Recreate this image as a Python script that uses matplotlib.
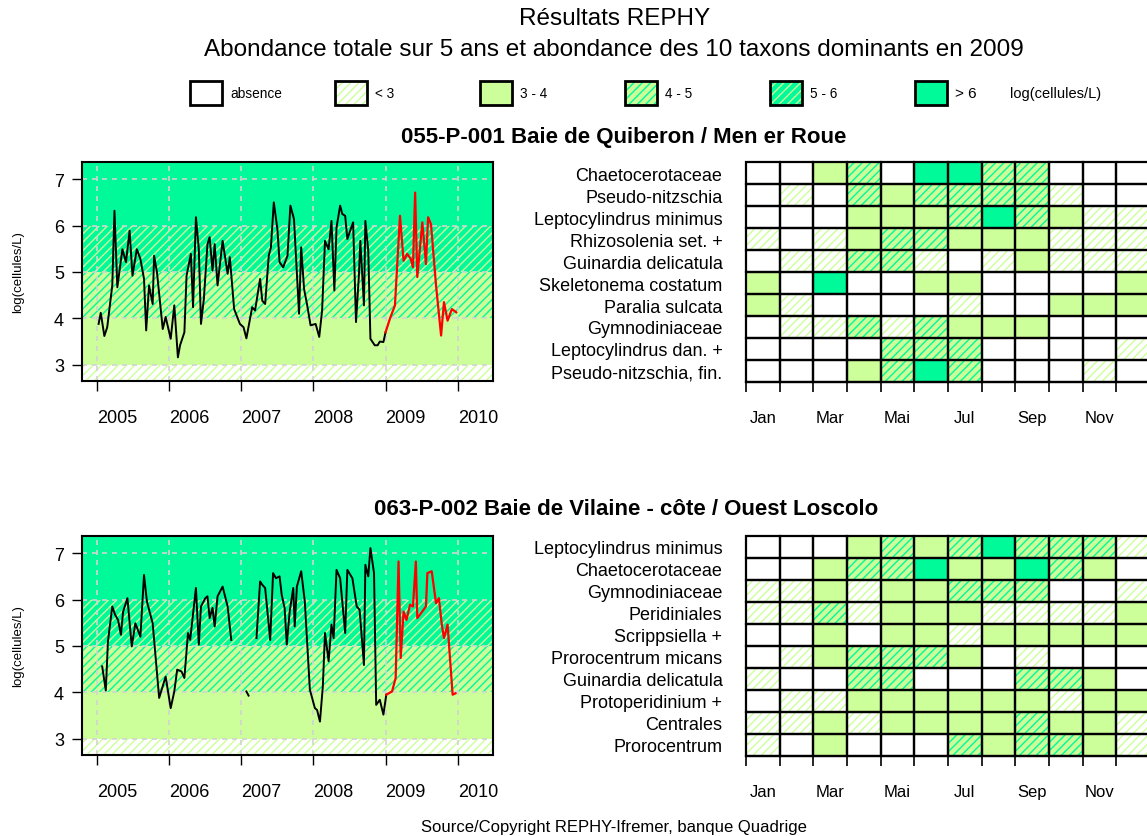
import numpy as np
import matplotlib.pyplot as plt

plt.rcParams['font.family'] = ['Liberation Sans', 'DejaVu Sans']
plt.rcParams['hatch.linewidth'] = 1.0

LIGHT = '#CCFF99'
SPRING = '#00FA9A'

# abundance classes (log cells/L)
class_labels = ['absence', '< 3', '3 - 4', '4 - 5', '5 - 6', '> 6']
class_face = ['white', 'white', LIGHT, LIGHT, SPRING, SPRING]
class_hatch = [None, '////', None, '////', '////', None]
class_hcol = ['white', LIGHT, LIGHT, SPRING, LIGHT, SPRING]
band_edges = [2.0, 3, 4, 5, 6, 8.0]
band_class = [1, 2, 3, 4, 5]

years = [2005, 2006, 2007, 2008, 2009, 2010]
months = ['Jan', 'Mar', 'Mai', 'Jul', 'Sep', 'Nov']

# --- station 1 : Quiberon
title1 = '055-P-001 Baie de Quiberon / Men er Roue'
t1 = [2005.02, 2005.05, 2005.10, 2005.14, 2005.21, 2005.24, 2005.28, 2005.35, 2005.40, 2005.45,
      2005.49, 2005.55, 2005.60, 2005.65, 2005.68, 2005.72, 2005.77, 2005.79, 2005.83, 2005.91,
      2005.95, 2006.02, 2006.07, 2006.12, 2006.15, 2006.21, 2006.24, 2006.30, 2006.33, 2006.37,
      2006.41, 2006.44, 2006.48, 2006.53, 2006.56, 2006.60, 2006.63, 2006.67, 2006.74, 2006.81,
      2006.84, 2006.90, 2006.98, 2007.03, 2007.07, 2007.15, 2007.19, 2007.26, 2007.29, 2007.33,
      2007.38, 2007.41, 2007.45, 2007.50, 2007.53, 2007.58, 2007.64, 2007.68, 2007.73, 2007.80,
      2007.83, 2007.87, 2007.91, 2007.96, 2008.03, 2008.08, 2008.12, 2008.16, 2008.21, 2008.25,
      2008.29, 2008.32, 2008.37, 2008.40, 2008.44, 2008.47, 2008.55, 2008.59, 2008.63, 2008.65,
      2008.70, 2008.72, 2008.76, 2008.79, 2008.85, 2008.89, 2008.92, 2008.97, 2009.00]
v1 = [3.88, 4.12, 3.62, 3.81, 4.71, 6.32, 4.67, 5.49, 5.21, 5.89,
      4.92, 5.49, 5.28, 4.85, 3.74, 4.71, 4.31, 5.35, 4.99, 3.77,
      4.03, 3.56, 4.28, 3.16, 3.42, 3.70, 4.92, 5.39, 4.24, 6.18,
      5.49, 3.88, 4.42, 5.60, 5.75, 5.03, 5.60, 4.71, 5.67, 4.96,
      5.32, 4.20, 3.88, 3.81, 3.57, 4.24, 4.17, 4.85, 4.38, 4.31,
      5.35, 5.53, 6.50, 5.92, 5.21, 5.10, 5.35, 6.43, 6.14, 4.10,
      5.53, 4.63, 4.31, 3.85, 3.88, 3.60, 4.17, 5.67, 5.49, 6.10,
      4.60, 5.96, 6.43, 6.25, 6.21, 5.71, 6.07, 3.92, 4.92, 5.67,
      4.28, 6.10, 5.46, 3.56, 3.42, 3.42, 3.50, 3.49, 3.70]
t1_2009 = [2009.00, 2009.06, 2009.13, 2009.20, 2009.25, 2009.30, 2009.35, 2009.38, 2009.41, 2009.44,
           2009.51, 2009.56, 2009.59, 2009.63, 2009.70, 2009.77, 2009.81, 2009.86, 2009.92, 2009.98]
v1_2009 = [3.70, 3.99, 4.28, 6.21, 5.24, 5.39, 5.28, 5.10, 6.71, 4.89,
           6.07, 5.17, 6.18, 6.03, 4.71, 3.63, 4.35, 3.95, 4.20, 4.13]
taxa1 = ['Chaetocerotaceae', 'Pseudo-nitzschia', 'Leptocylindrus minimus', 'Rhizosolenia set. +',
         'Guinardia delicatula', 'Skeletonema costatum', 'Paralia sulcata', 'Gymnodiniaceae',
         'Leptocylindrus dan. +', 'Pseudo-nitzschia, fin.']
cells1 = [[0, 0, 2, 3, 0, 5, 5, 3, 3, 0, 0, 0],
          [0, 1, 0, 3, 2, 3, 3, 3, 3, 1, 0, 0],
          [0, 0, 0, 2, 2, 2, 3, 5, 3, 2, 1, 1],
          [1, 0, 1, 2, 3, 3, 2, 2, 2, 1, 1, 1],
          [0, 1, 1, 3, 3, 1, 0, 1, 2, 1, 1, 1],
          [2, 0, 5, 0, 0, 2, 2, 0, 0, 0, 0, 2],
          [2, 1, 0, 0, 0, 0, 1, 0, 0, 2, 2, 2],
          [0, 1, 1, 3, 1, 3, 2, 2, 2, 0, 0, 0],
          [0, 0, 0, 0, 3, 3, 3, 0, 0, 0, 0, 1],
          [0, 0, 0, 2, 3, 5, 3, 0, 0, 0, 1, 0]]

# --- station 2 : Vilaine
title2 = '063-P-002 Baie de Vilaine - côte / Ouest Loscolo'
nan = np.nan
t2 = [2005.07, 2005.12, 2005.15, 2005.21, 2005.25, 2005.29, 2005.33, 2005.36, 2005.42, 2005.48,
      2005.53, 2005.60, 2005.65, 2005.69, 2005.77, 2005.86, 2005.95, 2006.02, 2006.07, 2006.11,
      2006.17, 2006.21, 2006.26, 2006.29, 2006.37, 2006.41, 2006.44, 2006.50, 2006.53, 2006.56,
      2006.60, 2006.63, 2006.67, 2006.74, 2006.81, 2006.86, 2006.95, 2007.07, 2007.10, 2007.15,
      2007.21, 2007.26, 2007.29, 2007.33, 2007.40, 2007.44, 2007.48, 2007.53, 2007.56, 2007.60,
      2007.63, 2007.67, 2007.72, 2007.74, 2007.77, 2007.83, 2007.88, 2007.95, 2008.02, 2008.05,
      2008.09, 2008.13, 2008.16, 2008.21, 2008.25, 2008.28, 2008.32, 2008.37, 2008.44, 2008.47,
      2008.54, 2008.60, 2008.64, 2008.70, 2008.72, 2008.76, 2008.79, 2008.84, 2008.87, 2008.92,
      2008.97, 2009.01]
v2 = [4.56, 4.04, 5.10, 5.85, 5.67, 5.56, 5.24, 5.74, 6.03, 4.99,
      5.49, 5.20, 6.53, 5.96, 5.49, 3.88, 4.34, 3.66, 4.02, 4.49,
      4.45, 4.31, 5.28, 5.13, 6.25, 5.03, 5.85, 6.03, 6.07, 5.60,
      5.82, 5.42, 6.07, 6.28, 5.85, 5.13, nan, 4.02, 3.93, nan,
      5.17, 6.39, 6.32, 6.25, 5.13, 6.57, 6.46, 6.50, 6.10, 5.82,
      5.03, 5.74, 6.25, 5.42, 6.28, 6.61, 5.96, 4.06, 3.66, 3.62,
      3.37, 4.13, 5.28, 4.67, 5.46, 5.17, 6.64, 6.46, 5.28, 6.64,
      6.46, 5.85, 5.78, 4.59, 6.75, 6.50, 7.11, 6.57, 3.73, 3.84,
      3.52, 3.95]
t2_2009 = [2009.01, 2009.09, 2009.14, 2009.18, 2009.21, 2009.25, 2009.29, 2009.34, 2009.38, 2009.42,
           2009.44, 2009.56, 2009.58, 2009.64, 2009.70, 2009.74, 2009.78, 2009.81, 2009.86, 2009.93,
           2009.97]
v2_2009 = [3.95, 4.02, 4.31, 6.82, 4.74, 5.74, 5.56, 5.89, 5.85, 6.82,
           5.60, 5.85, 6.57, 6.61, 5.92, 6.03, 5.46, 5.17, 5.46, 3.95,
           3.98]
taxa2 = ['Leptocylindrus minimus', 'Chaetocerotaceae', 'Gymnodiniaceae', 'Peridiniales',
         'Scrippsiella +', 'Prorocentrum micans', 'Guinardia delicatula', 'Protoperidinium +',
         'Centrales', 'Prorocentrum']
cells2 = [[0, 0, 0, 2, 3, 2, 3, 5, 3, 3, 3, 1],
          [0, 0, 2, 3, 3, 5, 2, 2, 5, 3, 2, 0],
          [1, 1, 2, 1, 2, 2, 3, 3, 3, 0, 0, 1],
          [1, 1, 3, 1, 2, 2, 2, 1, 1, 1, 1, 2],
          [0, 0, 2, 0, 2, 2, 1, 2, 2, 2, 2, 2],
          [0, 1, 2, 3, 3, 3, 2, 0, 1, 0, 0, 0],
          [1, 0, 0, 3, 3, 0, 0, 0, 3, 3, 2, 0],
          [0, 1, 1, 2, 2, 2, 2, 2, 2, 1, 2, 2],
          [1, 1, 2, 1, 2, 2, 2, 2, 3, 2, 2, 1],
          [1, 0, 2, 0, 0, 0, 3, 2, 3, 3, 2, 1]]

W, H = 1147, 837
fig = plt.figure(figsize=(W / 100, H / 100), dpi=100)


def px_axes(x0, y0, x1, y1):
    return fig.add_axes([x0 / W, 1 - y1 / H, (x1 - x0) / W, (y1 - y0) / H])


def draw_series(ax, t, v, t09, v09):
    for lo, hi, c in zip(band_edges[:-1], band_edges[1:], band_class):
        ax.axhspan(lo, hi, facecolor=class_face[c], edgecolor=class_hcol[c],
                   hatch=class_hatch[c], lw=0, zorder=0)
    ax.set_xticks(years)
    ax.set_xticklabels([str(y) for y in years], ha='left')
    ax.set_yticks([3, 4, 5, 6, 7])
    ax.grid(True, color='#D3D3D3', ls=(0, (3, 3)), lw=1.2)
    ax.plot(t, v, color='black', lw=1.4)
    ax.plot(t09, v09, color='red', lw=1.6)
    ax.set_xlim(2004.79, 2010.49)
    ax.set_ylim(2.65, 7.37)
    for s in ax.spines.values():
        s.set_linewidth(1.5)
    ax.tick_params(axis='x', length=7, width=1, pad=13, labelsize=13)
    ax.tick_params(axis='y', length=7, width=1, pad=6, labelsize=13)
    ax.set_ylabel('log(cellules/L)', fontsize=9.5)
    ax.yaxis.set_label_coords(-0.141, 0.5)


def draw_cells(ax, taxa, cells):
    n = len(cells)
    for r, row in enumerate(cells):
        for m, c in enumerate(row):
            ax.bar(m, 1, bottom=r, width=1, align='edge', color=class_face[c],
                   edgecolor=class_hcol[c], hatch=class_hatch[c], lw=0)
    rows = np.repeat(np.arange(n), 12)
    cols = np.tile(np.arange(12), n)
    ax.bar(cols, 1, bottom=rows, width=1, align='edge', fill=False,
           edgecolor='black', lw=1.6, clip_on=False)
    ax.set_xlim(0, 12)
    ax.set_ylim(n, 0)
    ax.set_xticks(np.arange(0.5, 12, 2))
    ax.set_xticklabels(months)
    ax.set_xticks(np.arange(13), minor=True)
    ax.set_yticks(np.arange(n) + 0.5)
    ax.set_yticklabels(taxa)
    ax.tick_params(axis='x', which='major', length=0, pad=20, labelsize=12)
    ax.tick_params(axis='x', which='minor', length=7, width=1.2)
    ax.tick_params(axis='y', length=0, pad=17, labelsize=13)
    for k in ['top', 'left', 'right']:
        ax.spines[k].set_visible(False)
    ax.spines['bottom'].set_linewidth(1.6)


# titles
fig.text(615 / W, 1 - 19 / H, 'Résultats REPHY', ha='center', va='center', fontsize=17.5)
fig.text(614 / W, 1 - 50 / H, 'Abondance totale sur 5 ans et abondance des 10 taxons dominants en 2009',
         ha='center', va='center', fontsize=17.5)

# legend row
lg = px_axes(190, 82, 1060, 106)
lg.set_xlim(0, 6)
lg.set_ylim(0, 1)
lg.axis('off')
for i, lab in enumerate(class_labels):
    lg.bar(i, 1, width=32 / 145, align='edge', color=class_face[i],
           edgecolor=class_hcol[i], hatch=class_hatch[i], lw=0)
    lg.bar(i, 1, width=32 / 145, align='edge', fill=False, edgecolor='black',
           lw=2, clip_on=False)
    lg.text(i + 40 / 145, 0.5, lab, va='center', ha='left',
            fontsize=11 if i == 5 else 9.8)
lg.text((1010 - 190) / 145, 0.5, 'log(cellules/L)', va='center', ha='left', fontsize=10.5)

# station 1
fig.text(624 / W, 1 - 138 / H, title1, ha='center', va='center', fontsize=16, fontweight='bold')
draw_series(px_axes(82, 163, 493, 382), t1, v1, t1_2009, v1_2009)
draw_cells(px_axes(746, 163, 1150, 383), taxa1, cells1)

# station 2
fig.text(626 / W, 1 - 510 / H, title2, ha='center', va='center', fontsize=16, fontweight='bold')
draw_series(px_axes(82, 537, 493, 756), t2, v2, t2_2009, v2_2009)
draw_cells(px_axes(746, 537, 1150, 757), taxa2, cells2)

fig.text(614 / W, 1 - 828 / H, 'Source/Copyright REPHY-Ifremer, banque Quadrige',
         ha='center', va='center', fontsize=12)

fig.savefig('out.png', dpi=100)
